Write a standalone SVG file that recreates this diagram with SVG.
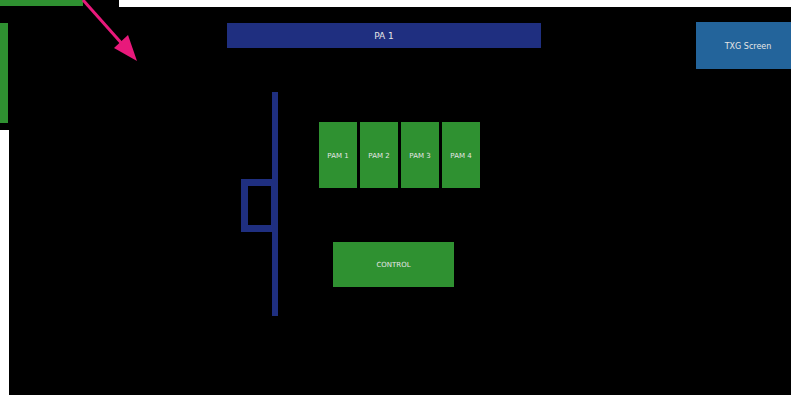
<svg xmlns="http://www.w3.org/2000/svg" width="791" height="395" viewBox="0 0 791 395">
<defs>
<style>
.green{fill:#2f9131;}
.navy{fill:#1f2f80;}
.lbl{font-family:"DejaVu Sans","Liberation Sans",sans-serif;fill:#e6e6e6;text-anchor:middle;dominant-baseline:central;}
</style>
<marker id="ah" viewBox="0 0 10 10" refX="9" refY="5" markerWidth="7" markerHeight="7" markerUnits="userSpaceOnUse" orient="auto">
<path d="M0,0 L10,5 L0,10 z" fill="#e8197b"/>
</marker>
</defs>
<rect x="0" y="0" width="791" height="395" fill="#ffffff"/>
<rect x="9" y="7" width="782" height="388" fill="#000000"/>
<rect x="0" y="0" width="119" height="130" fill="#000000"/>
<g id="top-bar"><rect class="green" x="0" y="0" width="83" height="6"/></g>
<g id="side-bar"><rect class="green" x="0" y="23" width="8" height="100"/></g>
<g id="pa1"><rect class="navy" x="227" y="23" width="314" height="25"/><text class="lbl" x="384" y="36" font-size="9">PA 1</text></g>
<g id="txg"><rect fill="#23649b" x="696" y="22" width="95" height="47"/><text class="lbl" x="748" y="46" font-size="8">TXG Screen</text></g>
<g id="bus"><rect class="navy" x="272" y="92" width="6" height="224"/><rect x="244.5" y="182.5" width="30" height="46" fill="none" stroke="#1f2f80" stroke-width="7"/></g>
<g id="pam1"><rect class="green" x="319" y="122" width="38" height="66"/><text class="lbl" x="338" y="156" font-size="7">PAM 1</text></g>
<g id="pam2"><rect class="green" x="360" y="122" width="38" height="66"/><text class="lbl" x="379" y="156" font-size="7">PAM 2</text></g>
<g id="pam3"><rect class="green" x="401" y="122" width="38" height="66"/><text class="lbl" x="420" y="156" font-size="7">PAM 3</text></g>
<g id="pam4"><rect class="green" x="442" y="122" width="38" height="66"/><text class="lbl" x="461" y="156" font-size="7">PAM 4</text></g>
<g id="control"><rect class="green" x="333" y="242" width="121" height="45"/><text class="lbl" x="393.5" y="265" font-size="7">CONTROL</text></g>
<g id="connectors">
<line x1="83" y1="0" x2="124" y2="46" stroke="#e8197b" stroke-width="3"/>
<path d="M137,61 L114,48 L128,35 z" fill="#e8197b"/>
</g>
</svg>
